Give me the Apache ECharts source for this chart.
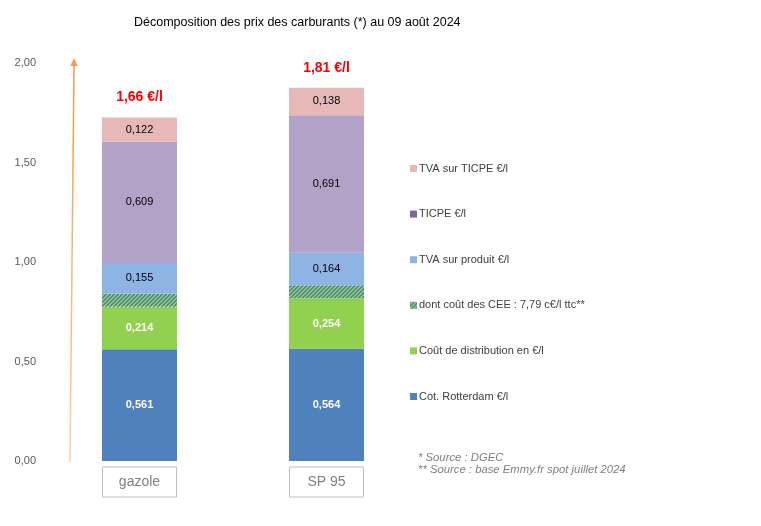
<!DOCTYPE html>
<html>
<head>
<meta charset="utf-8">
<script src="https://cdn.jsdelivr.net/npm/echarts@6/dist/echarts.min.js"></script>
<style>
  html, body { margin: 0; padding: 0; background: #fff; }
  #main { width: 761px; height: 526px; }
</style>
</head>
<body>
<div id="main"></div>
<script>
var categories = ['gazole', 'SP 95'];
var rotterdam = [0.561, 0.564];
var distribution = [0.214, 0.254];
var cee = [0.065, 0.065];
var tvaProduit = [0.155, 0.164];
var ticpe = [0.609, 0.691];
var tvaTicpe = [0.122, 0.138];
var totals = ['1,66 €/l', '1,81 €/l'];
var yTicks = [0, 0.5, 1, 1.5, 2];

// hatch pattern for the CEE part
var pat = document.createElement('canvas');
pat.width = 4; pat.height = 4;
var pc = pat.getContext('2d');
pc.fillStyle = '#92d050';
pc.fillRect(0, 0, 4, 4);
pc.fillStyle = '#4f81bd';
for (var i = 0; i < 4; i++) {
  pc.fillRect(i, 3 - i, 1, 1);
  pc.fillRect(i, (4 - i) % 4, 1, 1);
}

var chartDom = document.getElementById('main');
var myChart = echarts.init(chartDom);

function fmt(p) { return p.value.toFixed(3).replace('.', ','); }

function seg(name, data, color, txtColor, bold) {
  return {
    name: name,
    type: 'bar',
    stack: 'prix',
    barWidth: 75,
    data: data,
    itemStyle: { color: color },
    label: {
      show: txtColor !== null,
      position: 'inside',
      formatter: fmt,
      color: txtColor,
      fontSize: 11,
      fontWeight: bold ? 'bold' : 'normal',
      fontFamily: 'Liberation Sans'
    }
  };
}

var option = {
  animation: false,
  title: {
    text: 'Décomposition des prix des carburants (*) au 09 août 2024',
    left: 129,
    top: 11,
    textStyle: { fontSize: 12.5, fontWeight: 'normal', color: '#000', fontFamily: 'Liberation Sans' }
  },
  grid: { left: 46, right: 341, top: 63, bottom: 65 },
  legend: {
    orient: 'vertical',
    left: 405,
    top: 158,
    itemWidth: 7,
    itemHeight: 7,
    itemGap: 34.6,
    icon: 'rect',
    textStyle: { fontSize: 11, color: '#404040', fontFamily: 'Liberation Sans', padding: [0, 0, 0, -3] },
    data: [
      { name: 'TVA sur TICPE €/l' },
      { name: 'TICPE €/l', itemStyle: { color: '#8064a2' } },
      { name: 'TVA sur produit €/l' },
      { name: 'dont coût des CEE : 7,79 c€/l ttc**' },
      { name: 'Coût de distribution en €/l' },
      { name: 'Cot. Rotterdam €/l' }
    ]
  },
  xAxis: {
    type: 'category',
    data: categories,
    axisLine: { show: false },
    axisTick: { show: false },
    axisLabel: {
      margin: 6,
      color: '#808080',
      fontSize: 14,
      fontFamily: 'Liberation Sans',
      borderColor: '#bfbfbf',
      borderWidth: 1,
      width: 74,
      align: 'center',
      padding: [8, 0, 8, 0]
    }
  },
  yAxis: {
    type: 'value',
    min: 0,
    max: yTicks[yTicks.length - 1],
    interval: yTicks[1] - yTicks[0],
    splitLine: { show: false },
    axisLine: { show: false },
    axisLabel: {
      margin: 10,
      color: '#595959',
      fontSize: 11,
      fontFamily: 'Liberation Sans',
      formatter: function (v) { return v.toFixed(2).replace('.', ','); }
    }
  },
  graphic: [
    {
      type: 'line',
      shape: { x1: 70, y1: 462, x2: 74, y2: 66 },
      style: {
        lineWidth: 1.5,
        stroke: new echarts.graphic.LinearGradient(0, 1, 0, 0, [
          { offset: 0, color: '#fcd0a8' },
          { offset: 1, color: '#f79646' }
        ])
      }
    },
    {
      type: 'polygon',
      shape: { points: [[74, 58], [70.5, 66], [77.5, 66]] },
      style: { fill: '#f79646' }
    },
    {
      type: 'text',
      left: 418,
      top: 452,
      style: {
        text: '* Source : DGEC\n** Source : base Emmy.fr spot juillet 2024',
        fill: '#7f7f7f',
        font: 'italic 11.3px "Liberation Sans"',
        lineHeight: 12
      }
    }
  ],
  series: [
    seg('Cot. Rotterdam €/l', rotterdam, '#4f81bd', '#fff', true),
    seg('Coût de distribution en €/l', distribution, '#92d050', '#fff', true),
    seg('dont coût des CEE : 7,79 c€/l ttc**', cee, { image: pat, repeat: 'repeat' }, null, false),
    seg('TVA sur produit €/l', tvaProduit, '#8eb4e3', '#000', false),
    seg('TICPE €/l', ticpe, '#b3a2c7', '#000', false),
    seg('TVA sur TICPE €/l', tvaTicpe, '#e6b9b8', '#000', false),
    {
      name: 'total',
      type: 'bar',
      stack: 'prix',
      barWidth: 75,
      data: [0, 0],
      itemStyle: { color: 'transparent' },
      label: {
        show: true,
        position: 'top',
        distance: 13,
        color: '#ff0000',
        fontSize: 14,
        fontWeight: 'bold',
        fontFamily: 'Liberation Sans',
        formatter: function (p) { return totals[p.dataIndex]; }
      }
    }
  ]
};
myChart.setOption(option);
</script>
</body>
</html>
